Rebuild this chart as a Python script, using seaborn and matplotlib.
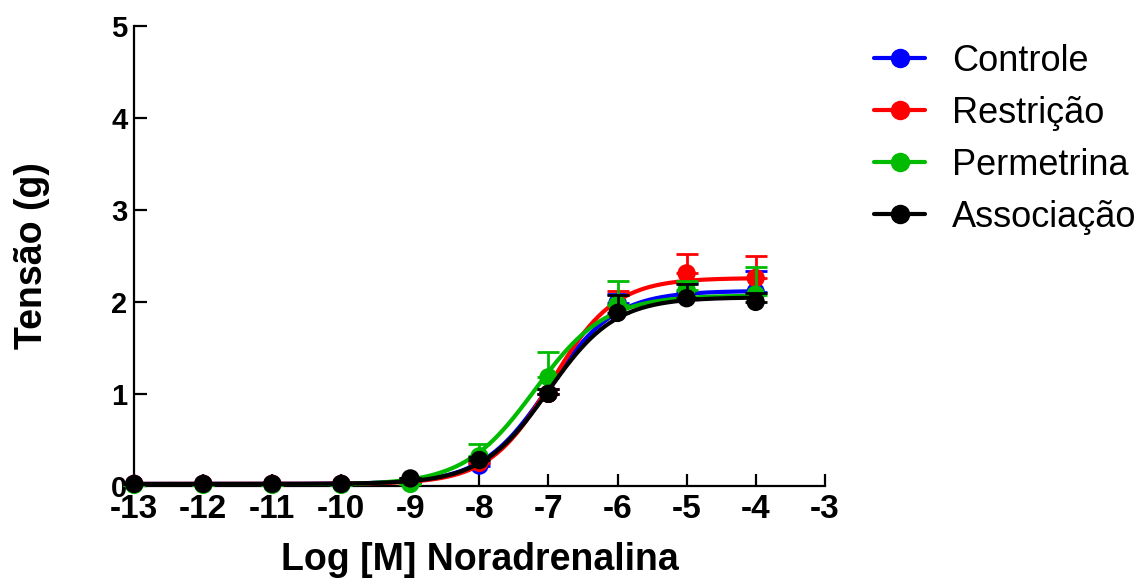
import numpy as np
import pandas as pd
import matplotlib
matplotlib.use("Agg")
import matplotlib.pyplot as plt
import seaborn as sns
from matplotlib.lines import Line2D

log_conc = [-13, -12, -11, -10, -9, -8, -7, -6, -5, -4]
groups = ["Controle", "Restrição", "Permetrina", "Associação"]
colors = ["#0000ff", "#ff0000", "#00bb00", "#000000"]

controle = [0.02, 0.02, 0.02, 0.02, 0.04, 0.22, 1.00, 1.99, 2.11, 2.11]
restricao = [0.02, 0.02, 0.02, 0.02, 0.04, 0.25, 1.00, 1.95, 2.31, 2.26]
permetrina = [0.01, 0.01, 0.01, 0.01, 0.02, 0.32, 1.18, 1.97, 2.13, 2.08]
associacao = [0.02, 0.02, 0.02, 0.02, 0.08, 0.28, 1.00, 1.88, 2.04, 2.00]

err_controle = [0, 0, 0, 0, 0, 0.03, 0.05, 0.10, 0.10, 0.23]
err_restricao = [0, 0, 0, 0, 0, 0.03, 0.05, 0.17, 0.21, 0.24]
err_permetrina = [0, 0, 0, 0, 0, 0.13, 0.28, 0.26, 0.10, 0.30]
err_associacao = [0, 0, 0, 0, 0, 0.03, 0.05, 0.19, 0.16, 0.10]

# sigmoid fit parameters (bottom, top, logEC50, hill)
fit_bottom = [0.02, 0.02, 0.01, 0.02]
fit_top = [2.12, 2.26, 2.07, 2.05]
fit_logec50 = [-7.0, -6.95, -7.2, -7.0]
fit_hill = [0.9, 0.95, 0.85, 0.9]

values = [controle, restricao, permetrina, associacao]
errors = [err_controle, err_restricao, err_permetrina, err_associacao]

sns.set_theme(style="ticks")
plt.rcParams['font.family'] = ['Liberation Sans', 'DejaVu Sans']
plt.rcParams['axes.unicode_minus'] = False
plt.rcParams['text.color'] = 'black'
plt.rcParams['axes.labelcolor'] = 'black'
plt.rcParams['xtick.color'] = 'black'
plt.rcParams['ytick.color'] = 'black'
plt.rcParams['axes.edgecolor'] = 'black'

fig = plt.figure(figsize=(11.47, 5.79), dpi=100)
ax = fig.add_axes([0.117, 0.161, 0.602, 0.794])

xs = np.linspace(-13, -4, 400)
for i, g in enumerate(groups):
    curve = fit_bottom[i] + (fit_top[i] - fit_bottom[i]) / (1 + 10 ** ((fit_logec50[i] - xs) * fit_hill[i]))
    dfc = pd.DataFrame({"x": xs, "y": curve})
    sns.lineplot(data=dfc, x="x", y="y", color=colors[i], lw=3, ax=ax, zorder=3 + i)
    ax.errorbar(log_conc, values[i], yerr=[np.zeros(len(errors[i])), errors[i]],
                fmt="none", ecolor=colors[i], elinewidth=2, capsize=8, capthick=2,
                zorder=3 + i, clip_on=False)
    dfp = pd.DataFrame({"x": log_conc, "y": values[i]})
    sns.scatterplot(data=dfp, x="x", y="y", color=colors[i], s=175, edgecolor="none",
                    ax=ax, zorder=4 + i, clip_on=False)

ax.set_xlim(-13, -3)
ax.set_ylim(0, 5)
ax.set_xticks(range(-13, -2))
ax.set_yticks(range(0, 6))
ax.spines["top"].set_visible(False)
ax.spines["right"].set_visible(False)
ax.spines["left"].set_linewidth(1.6)
ax.spines["bottom"].set_linewidth(1.6)
ax.tick_params(axis="both", direction="in", length=9, width=1.6, color="black",
               labelcolor="black")
ax.tick_params(axis="x", labelsize=24, pad=6)
ax.tick_params(axis="y", labelsize=21, pad=5)
for lab in ax.get_xticklabels() + ax.get_yticklabels():
    lab.set_fontweight("bold")
ax.set_xlabel("Log [M] Noradrenalina", fontsize=27, fontweight="bold", labelpad=12,
              color="black")
ax.set_ylabel("Tensão (g)", fontsize=27, fontweight="bold", color="black")
ax.yaxis.set_label_coords(-0.122, 0.5)
for sp in ax.spines.values():
    sp.set_clip_on(False)

handles = [Line2D([0], [0], color=c, lw=3, marker="o", markersize=13) for c in colors]
fig.legend(handles, groups, loc="upper left", bbox_to_anchor=(0.734, 0.98), frameon=False,
           fontsize=26, handlelength=1.4, handletextpad=0.75, labelspacing=0.47,
           labelcolor="black")

fig.savefig("out.png", dpi=100)
